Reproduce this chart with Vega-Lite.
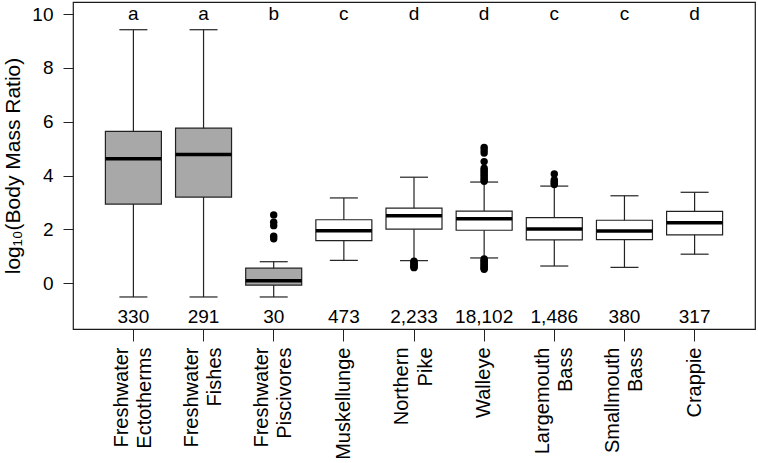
{
  "$schema": "https://vega.github.io/schema/vega-lite/v6.json",
  "width": 682,
  "height": 327,
  "autosize": {"type": "none"},
  "padding": {"left": 73, "top": 2, "right": 3, "bottom": 134},
  "background": "white",
  "config": {
    "view": {"stroke": "#1a1a1a", "strokeWidth": 1.2},
    "font": "Liberation Sans",
    "axis": {"labelColor": "black", "tickColor": "#222", "titleColor": "black", "grid": false, "domain": false}
  },
  "datasets": {
    "boxes": [
      {"cat": "Freshwater|Ectotherms", "grp": "g", "lo": -0.51, "q1": 2.94, "med": 4.63, "q3": 5.64, "hi": 9.42, "letter": "a", "n": "330"},
      {"cat": "Freshwater|Fishes", "grp": "g", "lo": -0.51, "q1": 3.20, "med": 4.78, "q3": 5.76, "hi": 9.42, "letter": "a", "n": "291"},
      {"cat": "Freshwater|Piscivores", "grp": "g", "lo": -0.51, "q1": -0.07, "med": 0.09, "q3": 0.56, "hi": 0.80, "letter": "b", "n": "30"},
      {"cat": "Muskellunge", "grp": "w", "lo": 0.85, "q1": 1.58, "med": 1.95, "q3": 2.36, "hi": 3.17, "letter": "c", "n": "473"},
      {"cat": "Northern|Pike", "grp": "w", "lo": 0.84, "q1": 2.01, "med": 2.51, "q3": 2.79, "hi": 3.94, "letter": "d", "n": "2,233"},
      {"cat": "Walleye", "grp": "w", "lo": 0.94, "q1": 1.97, "med": 2.40, "q3": 2.68, "hi": 3.76, "letter": "d", "n": "18,102"},
      {"cat": "Largemouth|Bass", "grp": "w", "lo": 0.64, "q1": 1.61, "med": 2.02, "q3": 2.44, "hi": 3.61, "letter": "c", "n": "1,486"},
      {"cat": "Smallmouth|Bass", "grp": "w", "lo": 0.59, "q1": 1.62, "med": 1.94, "q3": 2.34, "hi": 3.25, "letter": "c", "n": "380"},
      {"cat": "Crappie", "grp": "w", "lo": 1.08, "q1": 1.80, "med": 2.25, "q3": 2.67, "hi": 3.38, "letter": "d", "n": "317"}
    ],
    "outliers": [
      {"cat": "Freshwater|Piscivores", "v": 2.54},
      {"cat": "Freshwater|Piscivores", "v": 2.27},
      {"cat": "Freshwater|Piscivores", "v": 2.14},
      {"cat": "Freshwater|Piscivores", "v": 1.75},
      {"cat": "Freshwater|Piscivores", "v": 1.65},
      {"cat": "Northern|Pike", "v": 0.82},
      {"cat": "Northern|Pike", "v": 0.77},
      {"cat": "Northern|Pike", "v": 0.72},
      {"cat": "Northern|Pike", "v": 0.68},
      {"cat": "Northern|Pike", "v": 0.64},
      {"cat": "Northern|Pike", "v": 0.60},
      {"cat": "Northern|Pike", "v": 0.58},
      {"cat": "Walleye", "v": 5.05},
      {"cat": "Walleye", "v": 4.95},
      {"cat": "Walleye", "v": 4.84},
      {"cat": "Walleye", "v": 4.52},
      {"cat": "Walleye", "v": 4.27},
      {"cat": "Walleye", "v": 4.20},
      {"cat": "Walleye", "v": 4.13},
      {"cat": "Walleye", "v": 4.06},
      {"cat": "Walleye", "v": 3.99},
      {"cat": "Walleye", "v": 3.92},
      {"cat": "Walleye", "v": 3.85},
      {"cat": "Walleye", "v": 3.79},
      {"cat": "Walleye", "v": 0.90},
      {"cat": "Walleye", "v": 0.85},
      {"cat": "Walleye", "v": 0.80},
      {"cat": "Walleye", "v": 0.75},
      {"cat": "Walleye", "v": 0.70},
      {"cat": "Walleye", "v": 0.65},
      {"cat": "Walleye", "v": 0.60},
      {"cat": "Walleye", "v": 0.56},
      {"cat": "Walleye", "v": 0.52},
      {"cat": "Largemouth|Bass", "v": 4.06},
      {"cat": "Largemouth|Bass", "v": 3.84},
      {"cat": "Largemouth|Bass", "v": 3.78},
      {"cat": "Largemouth|Bass", "v": 3.72},
      {"cat": "Largemouth|Bass", "v": 3.67}
    ]
  },
  "encoding": {
    "x": {
      "field": "cat",
      "type": "nominal",
      "sort": null,
      "scale": {
        "type": "band",
        "domain": ["Freshwater|Ectotherms", "Freshwater|Fishes", "Freshwater|Piscivores", "Muskellunge", "Northern|Pike", "Walleye", "Largemouth|Bass", "Smallmouth|Bass", "Crappie"],
        "paddingInner": 0,
        "paddingOuter": 0.361
      },
      "axis": {
        "title": null,
        "labelExpr": "split(datum.label, '|')",
        "labelAngle": 270,
        "labelAlign": "right",
        "labelBaseline": "middle",
        "labelFontSize": 20,
        "labelLineHeight": 23.5,
        "labelPadding": 6,
        "labelOffset": {"condition": {"test": "indexof(datum.value, '|') >= 0", "value": -11.75}, "value": 0},
        "labelLimit": 0,
        "labelOverlap": false,
        "labelBound": false,
        "tickSize": 12
      }
    }
  },
  "layer": [
    {
      "data": {"name": "boxes"},
      "mark": {"type": "rule", "color": "#222", "strokeWidth": 1.2, "opacity": 1},
      "encoding": {
        "y": {
          "field": "lo",
          "type": "quantitative",
          "scale": {"domain": [-1.7, 10.45], "nice": false, "zero": false},
          "axis": {
            "values": [0, 2, 4, 6, 8, 10],
            "tickSize": 10,
            "labelFontSize": 19,
            "labelPadding": 10,
            "title": "log₁₀(Body Mass Ratio)",
            "titleFontSize": 21,
            "titleFontWeight": "normal",
            "titlePadding": 8
          }
        },
        "y2": {"field": "hi"}
      }
    },
    {
      "data": {"name": "boxes"},
      "mark": {"type": "tick", "color": "#222", "size": 28, "thickness": 1.2, "opacity": 1},
      "encoding": {"y": {"field": "lo", "type": "quantitative"}}
    },
    {
      "data": {"name": "boxes"},
      "mark": {"type": "tick", "color": "#222", "size": 28, "thickness": 1.2, "opacity": 1},
      "encoding": {"y": {"field": "hi", "type": "quantitative"}}
    },
    {
      "data": {"name": "boxes"},
      "mark": {"type": "bar", "size": 56, "stroke": "#222", "strokeWidth": 1.2, "opacity": 1},
      "encoding": {
        "y": {"field": "q1", "type": "quantitative"},
        "y2": {"field": "q3"},
        "fill": {"field": "grp", "type": "nominal", "scale": {"domain": ["g", "w"], "range": ["#A8A8A8", "#FFFFFF"]}, "legend": null}
      }
    },
    {
      "data": {"name": "boxes"},
      "mark": {"type": "tick", "color": "black", "size": 56, "thickness": 3.5, "opacity": 1},
      "encoding": {"y": {"field": "med", "type": "quantitative"}}
    },
    {
      "data": {"name": "outliers"},
      "mark": {"type": "point", "filled": true, "color": "black", "size": 55, "opacity": 1},
      "encoding": {"y": {"field": "v", "type": "quantitative"}}
    },
    {
      "data": {"name": "boxes"},
      "mark": {"type": "text", "fontSize": 19, "color": "black", "baseline": "middle"},
      "encoding": {"y": {"datum": 10, "type": "quantitative"}, "text": {"field": "letter"}}
    },
    {
      "data": {"name": "boxes"},
      "mark": {"type": "text", "fontSize": 19, "color": "black", "baseline": "middle"},
      "encoding": {"y": {"datum": -1.25, "type": "quantitative"}, "text": {"field": "n"}}
    }
  ]
}
